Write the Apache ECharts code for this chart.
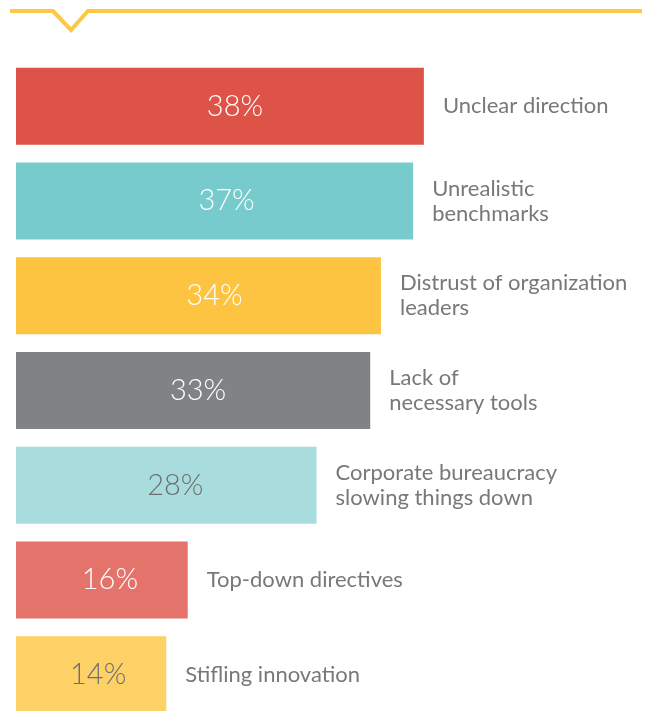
<!DOCTYPE html>
<html>
<head>
<meta charset="utf-8">
<script src="https://cdn.jsdelivr.net/npm/echarts@6/dist/echarts.min.js"></script>
<style>
html,body{margin:0;padding:0;background:#fff;overflow:hidden;}
#chart{width:645px;height:730px;}
</style>
</head>
<body>
<div id="chart"></div>
<script>
const categories = [
  'Unclear direction',
  'Unrealistic\nbenchmarks',
  'Distrust of organization\nleaders',
  'Lack of\nnecessary tools',
  'Corporate bureaucracy\nslowing things down',
  'Top-down directives',
  'Stifling innovation'
];
const values = [38, 37, 34, 33, 28, 16, 14];

const barColors = ['#de5347', '#78cbcd', '#fcc441', '#818285', '#a9dcdc', '#e4746b', '#fdd166'];
const valueLabelColors = ['#ffffff', '#ffffff', '#ffffff', '#ffffff', '#6d6e71', '#ffffff', '#6d6e71'];
const valueLabelShift = [15, 12, 16, 5, 9, 8, 7];

const FONT_VALUE = "Lato, 'DejaVu Sans Condensed', sans-serif";
const FONT_NAME = "Lato, 'DejaVu Sans Condensed', sans-serif";

const chart = echarts.init(document.getElementById('chart'), null, {renderer: 'canvas'});
chart.setOption({
  animation: false,
  backgroundColor: '#ffffff',
  grid: {left: 16, right: 0, top: 59, height: 663, containLabel: false},
  xAxis: {type: 'value', min: 0, max: 58.6, show: false},
  yAxis: {type: 'category', data: categories, inverse: true, show: false},
  graphic: [{
    type: 'polyline',
    shape: {points: [[10, 11], [53, 11], [71, 30], [88, 11], [642, 11]]},
    style: {stroke: '#fdc843', lineWidth: 4, fill: null, lineJoin: 'miter'},
    silent: true
  }],
  series: [
    {
      type: 'bar',
      barWidth: 77,
      barGap: '-100%',
      data: values.map((v, i) => ({
        value: v,
        itemStyle: {color: barColors[i]},
        label: {color: valueLabelColors[i], offset: [valueLabelShift[i], 0]}
      })),
      label: {
        show: true,
        position: 'inside',
        formatter: '{c}%',
        fontFamily: FONT_VALUE,
        fontSize: 29,
        fontWeight: 300
      }
    },
    {
      type: 'bar',
      barWidth: 77,
      barGap: '-100%',
      silent: true,
      itemStyle: {color: 'rgba(0,0,0,0)'},
      data: values,
      label: {
        show: true,
        position: 'right',
        distance: 19,
        formatter: p => categories[p.dataIndex],
        color: '#77787b',
        fontFamily: FONT_NAME,
        fontSize: 22,
        fontWeight: 400,
        lineHeight: 25,
        align: 'left'
      }
    }
  ]
});
</script>
</body>
</html>
